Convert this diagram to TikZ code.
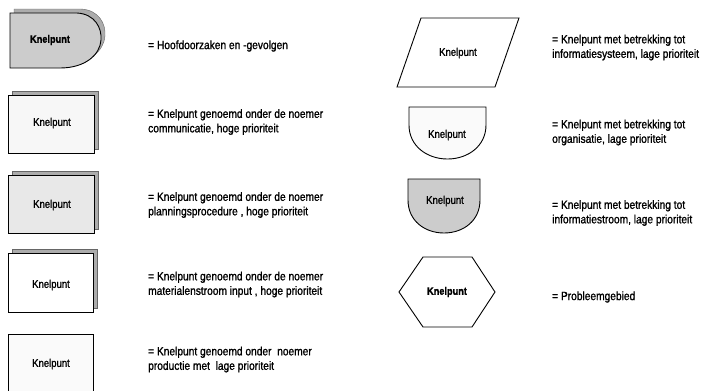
\documentclass[tikz,border=0pt]{standalone}
\usepackage{fontspec}
\setmainfont{Liberation Sans}
\newfontfamily\narrowsans[FakeStretch=0.85,FakeBold=1.2]{Liberation Sans}

\begin{document}
\begin{tikzpicture}[x=1pt,y=-1pt,
  legend/.style={anchor=west, align=left, inner sep=0pt,
    font=\narrowsans\fontsize{12}{14.5}\selectfont},
  tag/.style={inner sep=0pt, font=\narrowsans\fontsize{11.2}{13}\selectfont},
  tagbold/.style={inner sep=0pt, font=\narrowsans\bfseries\fontsize{10.8}{12}\selectfont},
  outline/.style={draw=black, line width=0.9pt},
  shadowband/.style={fill=gray!65, draw=black!60, line width=0.4pt},
]
\useasboundingbox (0,0) rectangle (705,391);

% --- main causes and effects: rounded box with shadow
\path[shadowband, shift={(4,-4)}]
  (10,13) -- (77,13) .. controls (95,14) and (102,28) .. (101,40)
  .. controls (100,55) and (85,68) .. (60,68) -- (10,68) -- cycle;
\path[outline, fill=gray!40]
  (10,13) -- (77,13) .. controls (95,14) and (102,28) .. (101,40)
  .. controls (100,55) and (85,68) .. (60,68) -- (10,68) -- cycle;
\node[tagbold] (k1) at (50,40) {Knelpunt};
\node[legend] (l1) at (148,46) {= Hoofdoorzaken en -gevolgen};

% --- communication, high priority
\path[shadowband] (12,91) rectangle (98,149);
\path[outline, fill=gray!6] (8,95) rectangle (94,153);
\node[tag] (k2) at (52,123) {Knelpunt};
\node[legend] (l2) at (148,122) {= Knelpunt genoemd onder de noemer\\communicatie, hoge prioriteit};

% --- planning procedure, high priority
\path[shadowband] (12,171) rectangle (98,229);
\path[outline, fill=gray!18] (8,175) rectangle (94,233);
\node[tag] (k3) at (52,205) {Knelpunt};
\node[legend] (l3) at (148,205) {= Knelpunt genoemd onder de noemer\\planningsprocedure , hoge prioriteit};

% --- material flow input, high priority
\path[shadowband] (12,249) rectangle (97,308);
\path[outline, fill=white] (8,253) rectangle (93,312);
\node[tag] (k4) at (51,285) {Knelpunt};
\node[legend] (l4) at (148,284.5) {= Knelpunt genoemd onder de noemer\\materialenstroom input , hoge prioriteit};

% --- production, low priority
\path[outline, fill=gray!4] (8,334) rectangle (93,396);
\node[tag] (k5) at (51,364) {Knelpunt};
\node[legend] (l5) at (148,359.5) {= Knelpunt genoemd onder\ \ noemer\\productie met\ \ lage prioriteit};

% --- information system, low priority
\path[outline, fill=white] (421,18) -- (519,18) -- (495,87) -- (397,87) -- cycle;
\node[tag] (k6) at (458,53) {Knelpunt};
\node[legend] (l6) at (552,47.5) {= Knelpunt met betrekking tot\\informatiesysteem, lage prioriteit};

% --- organisation, low priority
\path[outline, fill=gray!4] (409,107) -- (486,107) -- (486,125)
  .. controls (486,146) and (468,159) .. (447.5,159)
  .. controls (427,159) and (409,146) .. (409,125) -- cycle;
\node[tag] (k7) at (447,135) {Knelpunt};
\node[legend] (l7) at (552,132.5) {= Knelpunt met betrekking tot\\organisatie, lage prioriteit};

% --- information flow, low priority
\path[outline, fill=gray!40] (408,179) -- (480,179) -- (480,200)
  .. controls (480,221) and (463,233) .. (444,233)
  .. controls (425,233) and (408,221) .. (408,200) -- cycle;
\node[tag] (k8) at (445,201) {Knelpunt};
\node[legend] (l8) at (552,213) {= Knelpunt met betrekking tot\\informatiestroom, lage prioriteit};

% --- problem area
\path[outline, fill=white] (399,292) -- (423,257) -- (472,257) -- (495,292)
  -- (472,327) -- (423,327) -- cycle;
\node[tagbold] (k9) at (447,292) {Knelpunt};
\node[legend] (l9) at (552,297) {= Probleemgebied};
\end{tikzpicture}
\end{document}
